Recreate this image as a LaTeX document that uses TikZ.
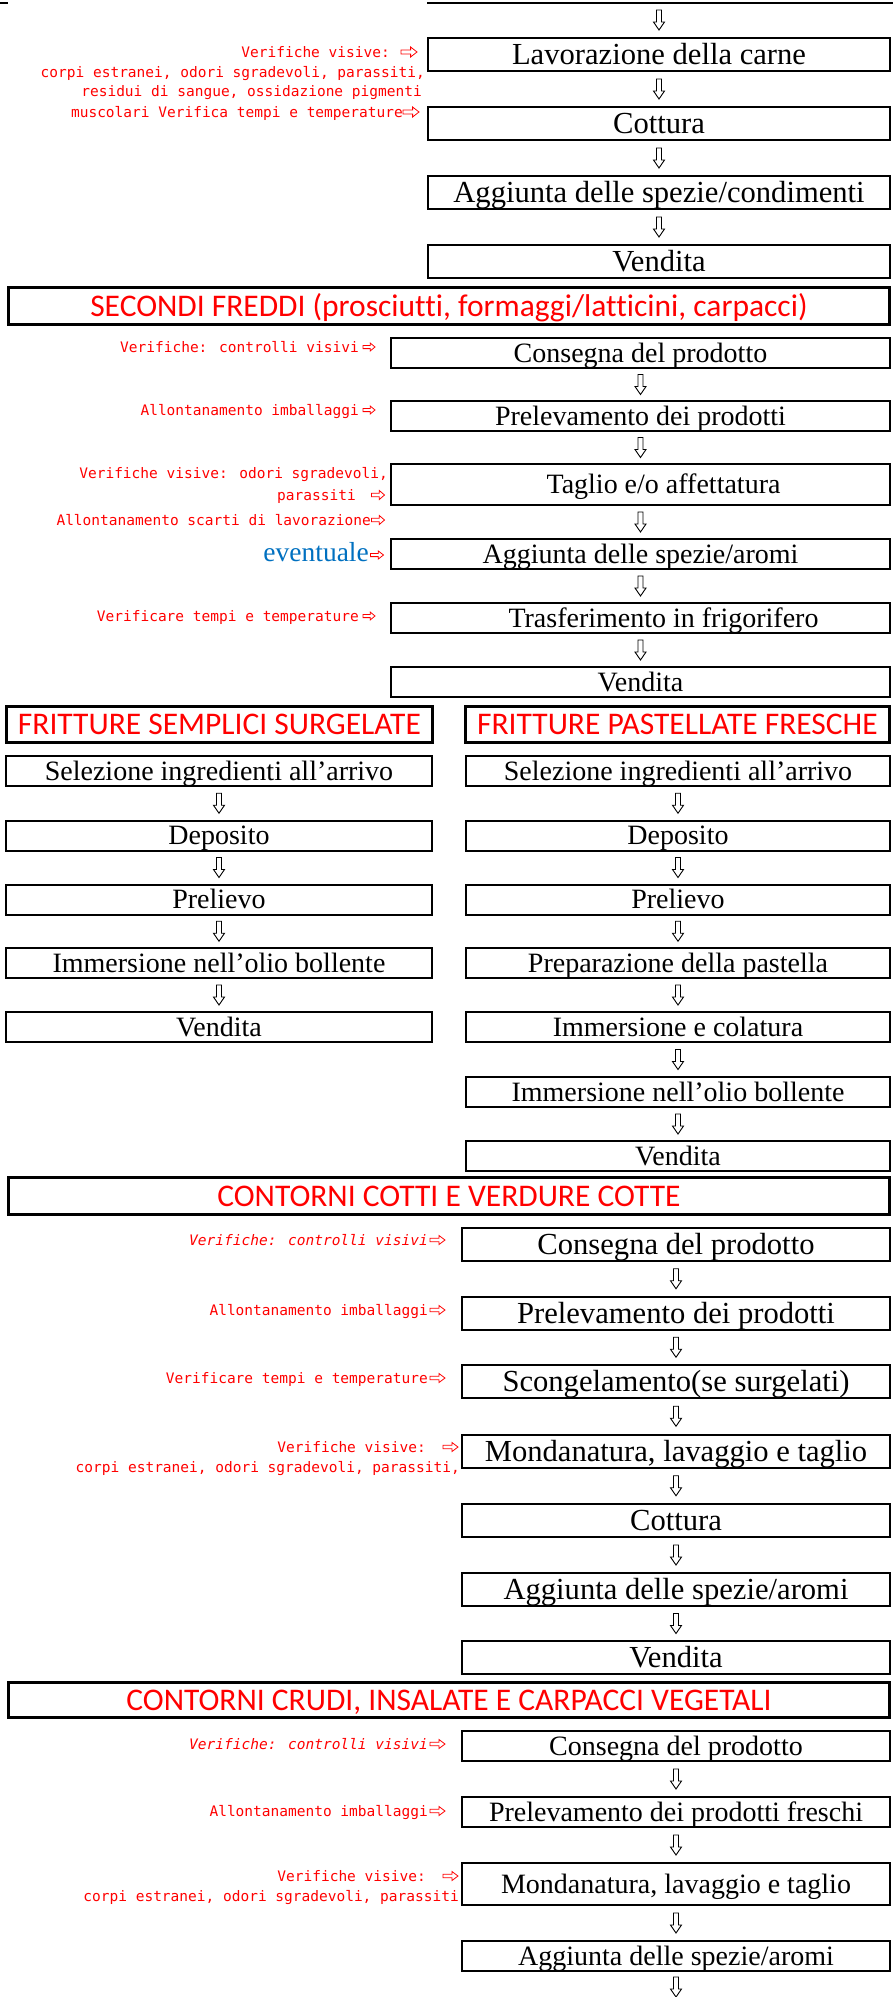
\documentclass[tikz,border=0pt]{standalone}
\usepackage{fontspec}
\setmainfont{Liberation Serif}
\newfontfamily\lblfont{DejaVu Sans Mono}
\newfontfamily\ttlfont[Ligatures={NoCommon}]{Carlito}
\definecolor{evblue}{RGB}{0,112,192}
\tikzset{
  box/.style={draw, line width=2pt, inner sep=0pt, text depth=0pt},
  bigt/.style={font=\fontsize{30.6}{36}\selectfont, text height=20.2pt, minimum height=33pt},
  midt/.style={font=\fontsize{28}{33}\selectfont, text height=18.5pt, minimum height=30pt},
  ttl/.style={draw, line width=3pt, inner sep=0pt, text=red, font=\ttlfont\fontsize{31.5}{36}\selectfont, text height=20.3pt, text depth=0pt},
  lbl/.style={text=red, font=\lblfont\fontsize{14.5}{17}\selectfont, inner sep=0pt, anchor=east, text height=10.5pt, text depth=0pt},
  ilbl/.style={lbl, font=\lblfont\itshape\fontsize{14.5}{17}\selectfont},
  darr/.pic={\draw[line width=0.9pt, line join=miter, fill=white] (-2.5,-10) -- (2.5,-10) -- (2.5,2) -- (5.5,2) -- (0,10) -- (-5.5,2) -- (-2.5,2) -- cycle;},
  pics/rarr/.style n args={2}{code={\draw[red, line width=0.8pt, line join=miter] (-#1/2,-0.2*#2) -- (0.1*#1,-0.2*#2) -- (0.1*#1,-0.5*#2) -- (#1/2,0) -- (0.1*#1,0.5*#2) -- (0.1*#1,0.2*#2) -- (-#1/2,0.2*#2) -- cycle;}},
}
\newcommand{\dar}[2]{\path #1 -- #2 coordinate[pos=0.5] (dtmp); \pic at (dtmp) {darr};}
\begin{document}
\begin{tikzpicture}[x=1pt,y=-1pt]
\useasboundingbox (0,0) rectangle (893,1997);

% ---------- Section 1 ----------
\coordinate (top) at (659,3);
\draw[line width=2pt] (0,3) -- (8,3);
\draw[line width=2pt] (427,3) -- (893,3);
\node[box,bigt,minimum width=462pt] (L1) at (659,54.5) {Lavorazione della carne};
\node[box,bigt,minimum width=462pt] (L2) at (659,123.5) {Cottura};
\node[box,bigt,minimum width=462pt] (L3) at (659,192.5) {Aggiunta delle spezie/condimenti};
\node[box,bigt,minimum width=462pt] (L4) at (659,261.5) {Vendita};
\dar{(top)}{(L1.north)}
\dar{(L1.south)}{(L2.north)}
\dar{(L2.south)}{(L3.north)}
\dar{(L3.south)}{(L4.north)}

\node[lbl] (n1a) at (390,52) {Verifiche visive:};
\pic at (409,52) {rarr={16}{10}};
\node[lbl] (n1b) at (425,72) {corpi estranei, odori sgradevoli, parassiti,};
\node[lbl] (n1c) at (422,91) {residui di sangue, ossidazione pigmenti};
\node[lbl] (n1d) at (403,112) {muscolari Verifica tempi e temperature};
\pic at (411,112) {rarr={16}{10}};

% ---------- Section 2 ----------
\node[ttl, minimum width=881pt, minimum height=37pt] (T2) at (449,306) {SECONDI FREDDI (prosciutti, formaggi/latticini, carpacci)};
\node[box,midt,minimum width=499pt] (S1) at (640.5,353) {Consegna del prodotto};
\node[box,midt,minimum width=499pt] (S2) at (640.5,416) {Prelevamento dei prodotti};
\node[box,midt,minimum width=499pt,minimum height=41pt] (S3) at (640.5,484.5) {\hspace*{46pt}Taglio e/o affettatura};
\node[box,midt,minimum width=499pt] (S4) at (640.5,554) {Aggiunta delle spezie/aromi};
\node[box,midt,minimum width=499pt] (S5) at (640.5,618) {\hspace*{46pt}Trasferimento in frigorifero};
\node[box,midt,minimum width=499pt] (S6) at (640.5,682) {Vendita};
\dar{(S1.south)}{(S2.north)}
\dar{(S2.south)}{(S3.north)}
\dar{(S3.south)}{(S4.north)}
\dar{(S4.south)}{(S5.north)}
\dar{(S5.south)}{(S6.north)}

\node[lbl] (n2a) at (359,347) {Verifiche: controlli visivi};
\pic at (369,347) {rarr={12}{8}};
\node[lbl] (n2b) at (359,410) {Allontanamento imballaggi};
\pic at (369,410) {rarr={12}{8}};
\node[lbl] (n2c) at (388,473) {Verifiche visive: odori sgradevoli,};
\node[lbl] (n2d) at (356,495) {parassiti};
\pic at (378,495) {rarr={13}{9}};
\node[lbl] (n2e) at (371,520) {Allontanamento scarti di lavorazione};
\pic at (378,520) {rarr={13}{9}};
\node[font=\fontsize{27.5}{32}\selectfont, text=evblue, inner sep=0pt, anchor=base east] (n2f) at (369,561.5) {eventuale};
\pic at (377,555) {rarr={13}{8}};
\node[lbl] (n2g) at (359,616) {Verificare tempi e temperature};
\pic at (369,616) {rarr={12}{8}};

% ---------- Section 3 ----------
\node[ttl, minimum width=426pt, minimum height=36pt] (T3a) at (219.5,724.5) {FRITTURE SEMPLICI SURGELATE};
\node[ttl, minimum width=424pt, minimum height=36pt] (T3b) at (677.5,724.5) {FRITTURE PASTELLATE FRESCHE};
\node[box,midt,minimum width=426pt] (A1) at (219,771) {Selezione ingredienti all’arrivo};
\node[box,midt,minimum width=426pt] (A2) at (219,835.5) {Deposito};
\node[box,midt,minimum width=426pt] (A3) at (219,899.5) {Prelievo};
\node[box,midt,minimum width=426pt] (A4) at (219,963) {Immersione nell’olio bollente};
\node[box,midt,minimum width=426pt] (A5) at (219,1027) {Vendita};
\dar{(A1.south)}{(A2.north)}
\dar{(A2.south)}{(A3.north)}
\dar{(A3.south)}{(A4.north)}
\dar{(A4.south)}{(A5.north)}
\node[box,midt,minimum width=424pt] (B1) at (678,771) {Selezione ingredienti all’arrivo};
\node[box,midt,minimum width=424pt] (B2) at (678,835.5) {Deposito};
\node[box,midt,minimum width=424pt] (B3) at (678,899.5) {Prelievo};
\node[box,midt,minimum width=424pt] (B4) at (678,963) {Preparazione della pastella};
\node[box,midt,minimum width=424pt] (B5) at (678,1027) {Immersione e colatura};
\node[box,midt,minimum width=424pt] (B6) at (678,1092) {Immersione nell’olio bollente};
\node[box,midt,minimum width=424pt] (B7) at (678,1156) {Vendita};
\dar{(B1.south)}{(B2.north)}
\dar{(B2.south)}{(B3.north)}
\dar{(B3.south)}{(B4.north)}
\dar{(B4.south)}{(B5.north)}
\dar{(B5.south)}{(B6.north)}
\dar{(B6.south)}{(B7.north)}

% ---------- Section 4 ----------
\node[ttl, minimum width=881pt, minimum height=37pt] (T4) at (449,1196) {CONTORNI COTTI E VERDURE COTTE};
\node[box,bigt,minimum width=428pt] (C1) at (676,1244.5) {Consegna del prodotto};
\node[box,bigt,minimum width=428pt] (C2) at (676,1313) {Prelevamento dei prodotti};
\node[box,bigt,minimum width=428pt] (C3) at (676,1381.5) {Scongelamento(se surgelati)};
\node[box,bigt,minimum width=428pt] (C4) at (676,1451) {Mondanatura, lavaggio e taglio};
\node[box,bigt,minimum width=428pt] (C5) at (676,1520.5) {Cottura};
\node[box,bigt,minimum width=428pt] (C6) at (676,1589.5) {Aggiunta delle spezie/aromi};
\node[box,bigt,minimum width=428pt] (C7) at (676,1657.5) {Vendita};
\dar{(C1.south)}{(C2.north)}
\dar{(C2.south)}{(C3.north)}
\dar{(C3.south)}{(C4.north)}
\dar{(C4.south)}{(C5.north)}
\dar{(C5.south)}{(C6.north)}
\dar{(C6.south)}{(C7.north)}

\node[ilbl] (n4a) at (428,1240) {Verifiche: controlli visivi};
\pic at (437.5,1240) {rarr={15}{9}};
\node[lbl] (n4b) at (428,1310) {Allontanamento imballaggi};
\pic at (437.5,1310) {rarr={15}{9}};
\node[lbl] (n4c) at (428,1378) {Verificare tempi e temperature};
\pic at (437.5,1378) {rarr={15}{9}};
\node[lbl] (n4d) at (426,1447) {Verifiche visive:};
\pic at (450.5,1447) {rarr={15}{9}};
\node[lbl] (n4e) at (460,1467) {corpi estranei, odori sgradevoli, parassiti,};

% ---------- Section 5 ----------
\node[ttl, minimum width=881pt, minimum height=35pt] (T5) at (449,1700) {CONTORNI CRUDI, INSALATE E CARPACCI VEGETALI};
\node[box,midt,minimum width=428pt] (D1) at (676,1746) {Consegna del prodotto};
\node[box,midt,minimum width=428pt] (D2) at (676,1812) {Prelevamento dei prodotti freschi};
\node[box,midt,minimum width=428pt,minimum height=42pt] (D3) at (676,1884) {Mondanatura, lavaggio e taglio};
\node[box,midt,minimum width=428pt] (D4) at (676,1956) {Aggiunta delle spezie/aromi};
\coordinate (bend) at (676,2002);
\dar{(D1.south)}{(D2.north)}
\dar{(D2.south)}{(D3.north)}
\dar{(D3.south)}{(D4.north)}
\dar{(D4.south)}{(bend)}

\node[ilbl] (n5a) at (428,1744) {Verifiche: controlli visivi};
\pic at (437.5,1744) {rarr={15}{9}};
\node[lbl] (n5b) at (428,1811) {Allontanamento imballaggi};
\pic at (437.5,1811) {rarr={15}{9}};
\node[lbl] (n5c) at (426,1876) {Verifiche visive:};
\pic at (450.5,1876) {rarr={15}{9}};
\node[lbl] (n5d) at (459,1896) {corpi estranei, odori sgradevoli, parassiti};
\end{tikzpicture}
\end{document}
